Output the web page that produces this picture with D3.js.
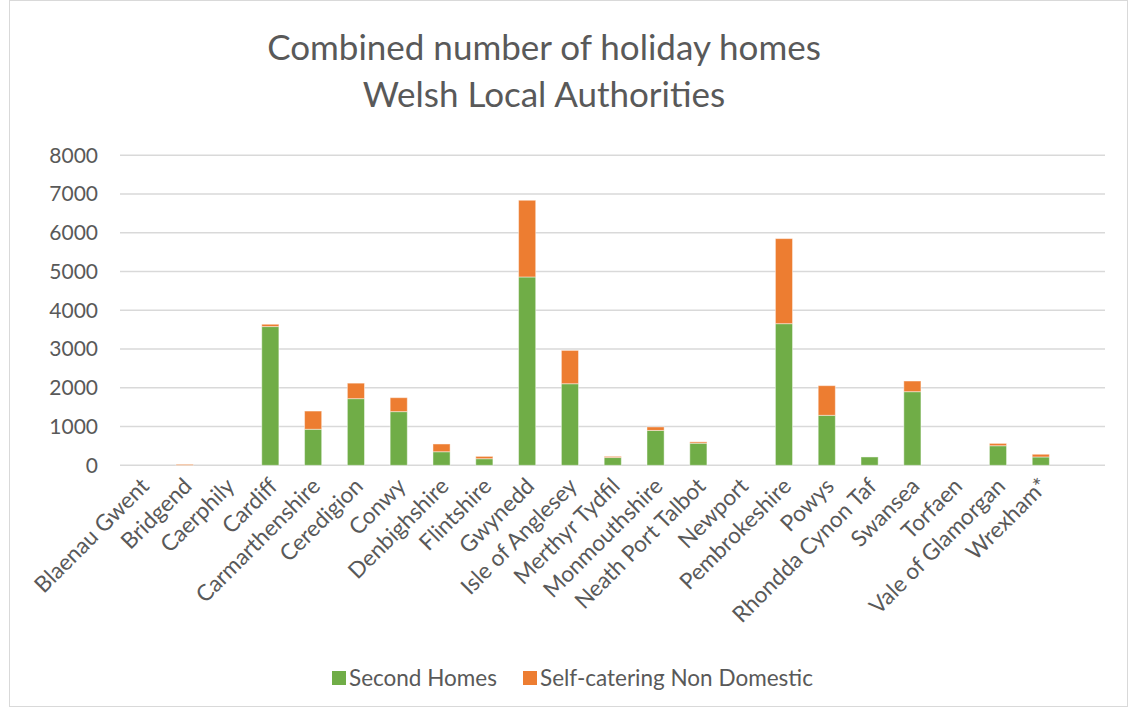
<!DOCTYPE html>
<html>
<script src="https://d3js.org/d3.v7.min.js"></script>
<style>
    body {
        margin: 0;
        background: #fff;
    }

    .domain {
        display: none;
    }

    text {
        font-family: Lato, "Open Sans", sans-serif;
        fill: #595959;
    }
</style>

<body>
</body>
<script>
    const width = 1130,
        height = 708;

    // values
    const authorities = ["Blaenau Gwent", "Bridgend", "Caerphily", "Cardiff", "Carmarthenshire", "Ceredigion",
        "Conwy", "Denbighshire", "Flintshire", "Gwynedd", "Isle of Anglesey", "Merthyr Tydfil", "Monmouthshire",
        "Neath Port Talbot", "Newport", "Pembrokeshire", "Powys", "Rhondda Cynon Taf", "Swansea", "Torfaen",
        "Vale of Glamorgan", "Wrexham*", ""
    ];
    const secondHomes = [0, 0, 0, 3580, 930, 1720, 1385, 350, 170, 4860, 2105, 200, 900, 570, 0, 3655, 1290, 215,
        1900, 0, 505, 215, 0
    ];
    const selfCatering = [0, 25, 0, 60, 470, 400, 360, 200, 60, 1980, 860, 30, 90, 35, 0, 2195, 765, 0, 275, 0, 60,
        70, 0
    ];
    const yTicks = [0, 1000, 2000, 3000, 4000, 5000, 6000, 7000, 8000];
    const seriesNames = ["Second Homes", "Self-catering Non Domestic"];
    const colors = ["#70ad47", "#ed7d31"];

    const svg = d3.select("body").append("svg").attr("width", width).attr("height", height);

    svg.append("rect")
        .attr("x", 9.5).attr("y", 0.5)
        .attr("width", 1118).attr("height", 706)
        .attr("fill", "none").attr("stroke", "#d9d9d9");

    const x = d3.scaleBand()
        .domain(authorities)
        .range([120.5, 1105])
        .paddingInner(0.6)
        .paddingOuter(0.3);
    const y = d3.scaleLinear()
        .domain([0, 8000])
        .range([465.3, 155.3]);

    // gridlines
    svg.append("g")
        .selectAll("line")
        .data(yTicks)
        .join("line")
        .attr("x1", 120).attr("x2", 1105)
        .attr("y1", d => y(d)).attr("y2", d => y(d))
        .attr("stroke", "#d9d9d9")
        .attr("stroke-width", 1.5);

    const yAxis = svg.append("g")
        .attr("transform", "translate(98,0)")
        .call(d3.axisLeft(y).tickValues(yTicks).tickFormat(d3.format("d")).tickSize(0).tickPadding(0));
    yAxis.selectAll("text").attr("font-size", 21).style("fill", "#595959");

    const rows = authorities.map((a, i) => ({
        name: a,
        v: [secondHomes[i], selfCatering[i]]
    }));
    const stacked = d3.stack()
        .keys([0, 1])
        .value((d, k) => d.v[k])(rows);

    svg.append("g")
        .selectAll("g")
        .data(stacked)
        .join("g")
        .attr("fill", (d, i) => colors[i])
        .selectAll("rect")
        .data(d => d.filter(p => p[1] > p[0]))
        .join("rect")
        .attr("x", d => x(d.data.name))
        .attr("width", x.bandwidth())
        .attr("y", d => y(d[1]))
        .attr("height", d => y(d[0]) - y(d[1]))
        .attr("stroke", "rgba(255,255,255,0.45)")
        .attr("stroke-width", 1);

    // category labels
    svg.append("g")
        .selectAll("text")
        .data(authorities)
        .join("text")
        .attr("transform", d => `translate(${x(d) + x.bandwidth() / 2 + 3},${482}) rotate(-45)`)
        .attr("text-anchor", "end")
        .attr("dy", "0.35em")
        .attr("font-size", 22.5)
        .text(d => d);

    // title
    const title = svg.append("text")
        .attr("text-anchor", "middle")
        .attr("font-size", 35);
    title.append("tspan").attr("x", 544).attr("y", 60).text("Combined number of holiday homes");
    title.append("tspan").attr("x", 544).attr("y", 107).text("Welsh Local Authorities");

    // legend
    const legend = svg.append("g")
        .selectAll("g")
        .data(seriesNames)
        .join("g")
        .attr("transform", (d, i) => `translate(${[332, 523][i]},671)`);
    legend.append("rect")
        .attr("width", 14).attr("height", 14)
        .attr("fill", (d, i) => colors[i]);
    legend.append("text")
        .attr("x", 17).attr("y", 7)
        .attr("dy", "0.35em")
        .attr("font-size", 22.5)
        .text(d => d);
</script>

</html>
